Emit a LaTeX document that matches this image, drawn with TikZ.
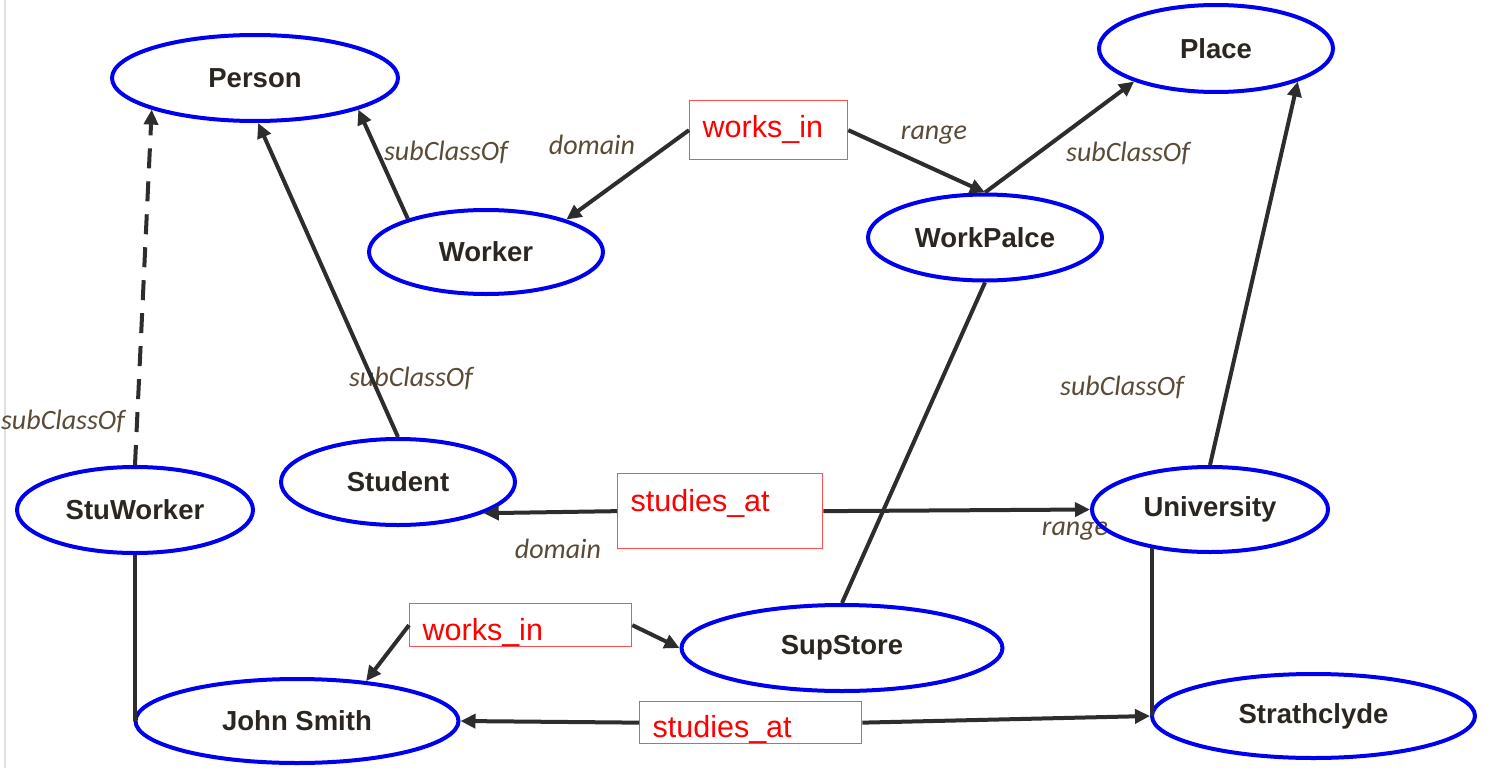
\documentclass[tikz,border=0pt]{standalone}
\usepackage{fontspec}
\setmainfont{Liberation Sans}
\newfontfamily\calib{Carlito}
\usetikzlibrary{shapes.geometric,arrows.meta}
\definecolor{entblue}{RGB}{0,0,240}
\definecolor{enttext}{RGB}{43,38,32}
\definecolor{edgec}{RGB}{45,45,45}
\definecolor{lblc}{RGB}{90,75,56}
\definecolor{boxred}{RGB}{255,80,80}
\begin{document}
\begin{tikzpicture}[x=1pt,y=-1pt,
  ent/.style={ellipse, draw=entblue, line width=4pt, inner sep=0pt,
    font=\fontsize{27.5}{31}\selectfont\bfseries, text=enttext},
  relbox/.style={draw=boxred, line width=1.3pt, inner xsep=13pt, inner ysep=0pt,
    anchor=north west, align=left, text=red, font=\fontsize{30.5}{34}\selectfont},
  lbl/.style={font=\calib\itshape\fontsize{28}{32}\selectfont, text=lblc, inner sep=0pt},
  rel/.style={draw=edgec, line width=4pt, -{Triangle[length=15pt,width=14pt]}},
  plain/.style={draw=edgec, line width=4pt}
]
\useasboundingbox (0,0) rectangle (1486,768);
\fill[white] (0,0) rectangle (1486,768);
\draw[black!12, line width=1.5pt] (5,0) -- (5,768);

% italic labels
\node[lbl] (lsc1) at (446,152) {subClassOf};
\node[lbl] (ldom1) at (592,145) {domain};
\node[lbl] (lrng1) at (934,135) {range};
\node[lbl] (lsc2) at (1128,153) {subClassOf};
\node[lbl] (lsc3) at (411,378) {subClassOf};
\node[lbl] (lsc4) at (63,421) {subClassOf};
\node[lbl] (lsc5) at (1122,387) {subClassOf};
\node[lbl] (ldom2) at (558,549) {domain};
\node[lbl] (lrng2) at (1075,531) {range};

% classes / individuals
\node[ent, minimum width=286pt, minimum height=86pt] (person) at (255,78) {Person};
\node[ent, minimum width=234pt, minimum height=87pt] (place) at (1216,48.5) {Place};
\node[ent, minimum width=234pt, minimum height=84pt] (worker) at (486,252) {Worker};
\node[ent, minimum width=234pt, minimum height=86pt] (workp) at (985,237.5) {WorkPalce};
\node[ent, minimum width=234pt, minimum height=86pt] (student) at (398,482) {Student};
\node[ent, minimum width=236pt, minimum height=86pt] (stuw) at (135,510) {StuWorker};
\node[ent, minimum width=236pt, minimum height=85pt] (uni) at (1210,509.5) {University};
\node[ent, minimum width=321pt, minimum height=86pt] (sup) at (842,648) {SupStore};
\node[ent, minimum width=323pt, minimum height=84pt] (john) at (297,721) {John Smith};
\node[ent, minimum width=323pt, minimum height=84pt] (strath) at (1313.5,716) {Strathclyde};

% property boxes
\node[relbox, text width=132pt, text height=37pt, text depth=22pt] (w1) at (689,100) {works\_in};
\node[relbox, text width=179pt, text height=38pt, text depth=37pt] (s1) at (617,473) {studies\_at};
\node[relbox, text width=196pt, text height=37pt, text depth=6pt] (w2) at (409,603) {works\_in};
\node[relbox, text width=196pt, text height=36pt, text depth=6pt] (s2) at (639,701) {studies\_at};

% connectors
\draw[rel] (worker.157) -- (person.-17);
\draw[rel] (student.north) -- (person.-86);
\draw[rel, dash pattern=on 20pt off 13pt] (stuw.north) -- (person.197);
\draw[rel] (w1.west) -- (worker.22);
\draw[rel] (w1.east) -- (workp.north);
\draw[rel] (workp.north) -- (place.202);
\draw[rel] (uni.north) -- (place.-22);
\draw[plain] (sup.north) -- (workp.south);
\draw[rel] (s1.west) -- (student.-20);
\draw[rel] (s1.east) -- (uni.west);
\draw[rel] (w2.west) -- (john.30);
\draw[rel] (w2.east) -- (sup.west);
\draw[plain] (stuw.south) -- (stuw.south |- john.west);
\draw[plain] (uni.214) -- (uni.214 |- strath.west);
\draw[rel] (s2.west) -- (john.east);
\draw[rel] (s2.east) -- (strath.west);
\end{tikzpicture}
\end{document}
